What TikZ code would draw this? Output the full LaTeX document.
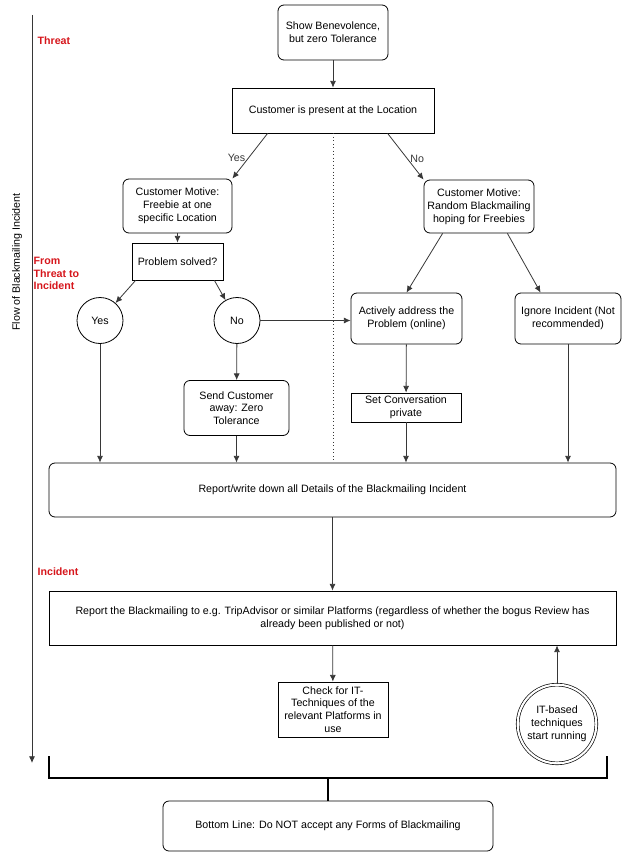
\documentclass[tikz,border=0pt]{standalone}
\usepackage{fontspec}
\setmainfont{Liberation Sans}
\usetikzlibrary{arrows.meta,calc}
\definecolor{phasered}{RGB}{214,22,28}
\definecolor{edgegray}{RGB}{55,55,55}

\begin{document}
\begin{tikzpicture}[x=0.75pt,y=-0.75pt,
    font=\fontsize{8}{9.6}\selectfont,
    every node/.style={align=center,inner sep=1pt},
    box/.style={draw,line width=0.6pt},
    rbox/.style={box,rounded corners=4.5pt},
    circ/.style={box,circle,minimum size=34.5pt},
    dcirc/.style={circle,draw,line width=0.5pt,double,double distance=1.6pt,minimum size=59pt},
    arr/.style={edgegray,line width=0.6pt,-{Latex[length=5pt,width=4.5pt]}},
    phase/.style={anchor=west,align=left,text=phasered,font=\fontsize{8}{9.6}\selectfont\bfseries}]
  \useasboundingbox (0,0) rectangle (623,852);

  % Flow axis on the left
  \coordinate (ftop) at (32,15);
  \coordinate (fbot) at (32,763);
  \draw[arr] (ftop) -- (fbot);
  \node (flow) [rotate=90] at (17,262) {Flow of Blackmailing Incident};
  \node (pthreat) [phase] at (36,41) {Threat};
  \node (pfrom) [phase] at (32,273.5) {From\\Threat to\\Incident};
  \node (pinc) [phase] at (36,572) {Incident};

  % Nodes
  \node (ben) [rbox,minimum width=82.5pt,minimum height=41.25pt] at (333,32.5) {Show Benevolence,\\but zero Tolerance};
  \node (loc) [box,minimum width=151.5pt,minimum height=33.75pt] at (333,110.5) {Customer is present at the Location};
  \node (mot1) [rbox,minimum width=81.75pt,minimum height=40.5pt] at (177.5,206) {Customer Motive:\\Freebie at one\\specific Location};
  \node (mot2) [rbox,minimum width=82.5pt,minimum height=39.75pt] at (479,206.5) {Customer Motive:\\Random Blackmailing\\hoping for Freebies};
  \node (prob) [box,minimum width=68.25pt,minimum height=27.75pt] at (177.5,261.5) {Problem solved?};
  \node (yes) [circ] at (100,320.5) {Yes};
  \node (no) [circ] at (237,320.5) {No};
  \node (send) [rbox,minimum width=78.75pt,minimum height=41.25pt] at (236.5,408) {Send Customer\\away: Zero\\Tolerance};
  \node (act) [rbox,minimum width=83.25pt,minimum height=38.25pt] at (406.5,318.5) {Actively address the\\Problem (online)};
  \node (ign) [rbox,minimum width=79.5pt,minimum height=38.25pt] at (568,318.5) {Ignore Incident (Not\\recommended)};
  \node (conv) [box,minimum width=82.5pt,minimum height=21.75pt] at (406,407.5) {Set Conversation\\private};
  \node (rep) [rbox,minimum width=425.25pt,minimum height=40.5pt] at (332.5,490) {Report/write down all Details of the Blackmailing Incident};
  \node (rep2) [box,minimum width=425.25pt,minimum height=40.5pt] at (332.5,618) {Report the Blackmailing to e.g. TripAdvisor or similar Platforms (regardless of whether the bogus Review has\\already been published or not)};
  \node (chk) [box,minimum width=82.5pt,minimum height=41.25pt] at (333,709.5) {Check for IT-\\Techniques of the\\relevant Platforms in\\use};
  \node (itc) [dcirc] at (557,724) {IT-based\\techniques\\start running};
  \node (bot) [rbox,minimum width=247.5pt,minimum height=37.5pt] at (328,826) {Bottom Line: Do NOT accept any Forms of Blackmailing};

  % Connectors
  \draw[arr] (ben) -- (loc);
  \draw[edgegray,line width=0.6pt,dotted] (loc.south) -- ($(loc.south |- rep.north)+(0,-1)$);
  \draw[arr] ($(loc.south west)+(36,0)$) -- node[pos=0.55,left=1pt] {Yes} (mot1.north east);
  \draw[arr] ($(loc.south west)+(156,0)$) -- node[pos=0.55,right=1pt] {No} (mot2.north west);
  \draw[arr] (mot1) -- (prob);
  \draw[arr] ($(prob.south west)+(4,0)$) -- (yes);
  \draw[arr] ($(prob.south east)+(-9,0)$) -- (no);
  \draw[arr] (no.east) -- (no.east -| act.west);
  \draw[arr] (no) -- (send);
  \draw[arr] ($(mot2.south west)+(19,0)$) -- (act.north);
  \draw[arr] ($(mot2.south east)+(-27,0)$) -- ($(ign.north west)+(26,0)$);
  \draw[arr] (act) -- (conv);
  \draw[arr] (yes) -- (yes |- rep.north);
  \draw[arr] (send) -- (send |- rep.north);
  \draw[arr] (conv) -- (conv |- rep.north);
  \draw[arr] (ign) -- (ign |- rep.north);
  \draw[arr] (rep) -- (rep2);
  \draw[arr] (rep2) -- (chk);
  \draw[arr] (itc) -- (itc |- rep2.south);
  % Bracket joining into the bottom line
  \draw[line width=1pt] (49,756) -- (49,778) -- (607,778) -- (607,756);
  \draw[line width=1pt] (328,778) -- (bot.north);
\end{tikzpicture}
\end{document}
